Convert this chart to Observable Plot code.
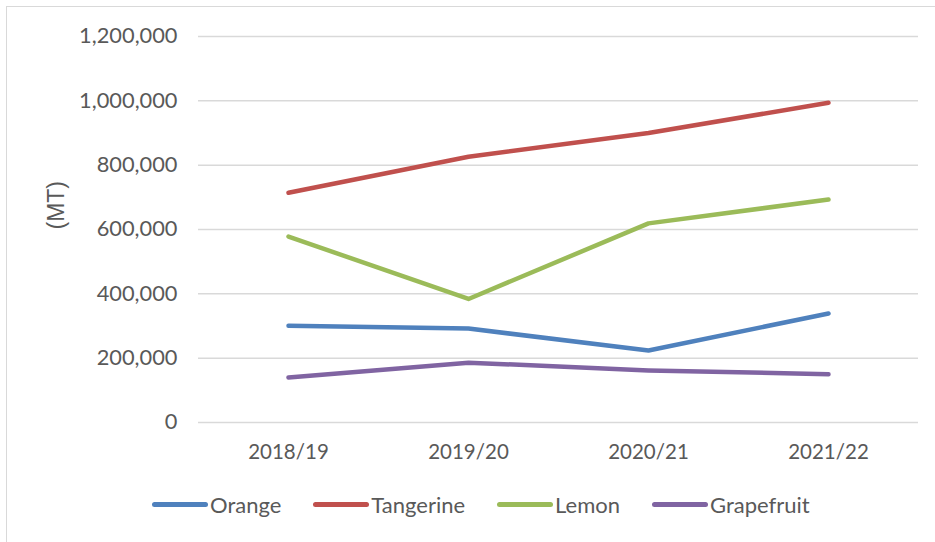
<!DOCTYPE html>
<html>
<head>
<meta charset="utf-8">
<script src="https://cdn.jsdelivr.net/npm/d3@7"></script>
<script src="https://cdn.jsdelivr.net/npm/@observablehq/plot@0.6"></script>
<style>
  html, body { margin: 0; padding: 0; background: #fff; }
  #wrap { position: relative; width: 935px; height: 542px; overflow: hidden; }
  #frame { position: absolute; left: 6px; top: 6px; width: 960px; height: 560px; border: 1.5px solid #d9d9d9; box-sizing: border-box; }
  #chart { position: absolute; left: 0; top: 0; }
  #legend { position: absolute; left: 152px; top: 491px; display: flex; gap: 32px;
    font-family: Lato, "Open Sans", sans-serif; font-size: 22px; color: #595959; }
  .item { display: flex; align-items: center; }
  .sw { width: 56px; height: 5px; border-radius: 3px; margin-right: 2px; }
</style>
</head>
<body>
<div id="wrap">
  <div id="frame"></div>
  <div id="chart"></div>
  <div id="legend"></div>
</div>
<script>
const seasons = ["2018/19", "2019/20", "2020/21", "2021/22"];
const seriesNames = ["Orange", "Tangerine", "Lemon", "Grapefruit"];
const seriesColors = ["#4f81bd", "#c0504d", "#9bbb59", "#8064a2"];
const orange = [301000, 292000, 224000, 339000];
const tangerine = [714000, 826000, 900000, 994000];
const lemon = [578000, 384000, 619000, 693000];
const grapefruit = [140000, 186000, 162000, 150000];
const yTicks = [0, 200000, 400000, 600000, 800000, 1000000, 1200000];

const valuesBySeries = [orange, tangerine, lemon, grapefruit];
const rows = [];
seriesNames.forEach((s, i) => {
  seasons.forEach((season, j) => rows.push({ series: s, season, value: valuesBySeries[i][j] }));
});

const fmt = d3.format(",");

const plot = Plot.plot({
  width: 935,
  height: 478,
  marginTop: 36,
  marginBottom: 56,
  marginLeft: 198,
  marginRight: 17,
  style: { fontFamily: "Lato, 'Open Sans', sans-serif", fontSize: "21px", color: "#595959", background: "transparent" },
  x: { type: "point", domain: seasons, padding: 0.5, label: null },
  y: { domain: [0, 1200000], ticks: yTicks, label: null },
  color: { domain: seriesNames, range: seriesColors },
  marks: [
    Plot.gridY(yTicks, { stroke: "#d9d9d9", strokeOpacity: 1, strokeWidth: 1.5 }),
    Plot.axisY(yTicks, { tickSize: 0, tickPadding: 21, tickFormat: fmt, fill: "#595959", fontSize: 21.8 }),
    Plot.axisX(seasons, { tickSize: 0, tickPadding: 22, fill: "#595959", fontSize: 20.5 }),
    Plot.lineY(rows, { x: "season", y: "value", z: "series", stroke: "series", strokeWidth: 4.5, strokeLinecap: "round", strokeLinejoin: "round" }),
    Plot.text(["(MT)"], { frameAnchor: "left", dx: -142, rotate: -90, fill: "#595959", fontSize: 23, fontFamily: "'Liberation Sans', Arial, sans-serif" })
  ]
});
document.getElementById("chart").appendChild(plot);

const legend = document.getElementById("legend");
seriesNames.forEach((s, i) => {
  const item = document.createElement("div");
  item.className = "item";
  const sw = document.createElement("div");
  sw.className = "sw";
  sw.style.background = seriesColors[i];
  const label = document.createElement("span");
  label.textContent = s;
  item.appendChild(sw);
  item.appendChild(label);
  legend.appendChild(item);
});
</script>
</body>
</html>
